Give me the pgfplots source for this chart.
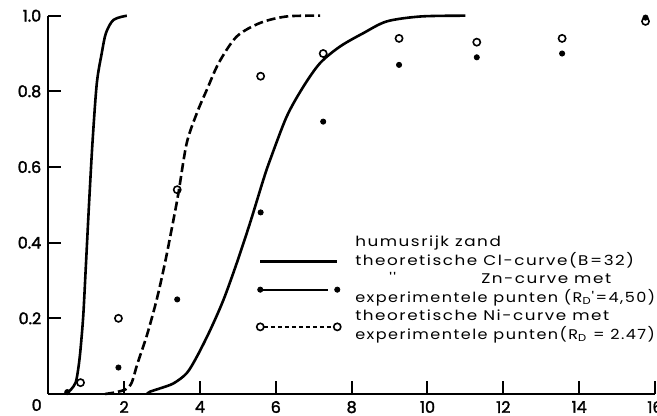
\documentclass[border=0pt]{standalone}
\usepackage{pgfplots}
\pgfplotsset{compat=1.18}
\usepackage{fontspec}
\setmainfont{Poppins}
\newfontfamily\legfont{Poppins}[FakeStretch=1.2, LetterSpace=11]
\newfontfamily\tickfont{Poppins}[FakeBold=2]

\begin{document}
\begin{tikzpicture}
\begin{axis}[
  name=ax,
  scale only axis,
  width=303.35pt, height=189.15pt,
  xmin=0, xmax=16, ymin=0, ymax=1,
  axis x line=bottom, axis y line=left,
  axis line style={-, line width=1pt},
  xtick={2,4,...,16}, ytick={0.2,0.4,0.6,0.8,1.0},
  tick align=inside,
  major tick length=6.5pt,
  tick style={line width=1pt, black},
  /pgf/number format/assume math mode=true,
  xticklabel style={font=\tickfont\fontsize{8}{9}\selectfont},
  yticklabel style={font=\tickfont\fontsize{8}{9}\selectfont,
    /pgf/number format/fixed, /pgf/number format/precision=1,
    /pgf/number format/fixed zerofill},
  clip=false,
  legend cell align=left,
  legend style={
    at={(axis cs:5.59,0.418)}, anchor=north west,
    draw=none, fill=none, inner sep=0pt, outer sep=0pt,
    row sep=2pt, column sep=0pt,
    font=\legfont\fontsize{7}{8}\selectfont,
    nodes={inner sep=0pt, text height=5.3pt, text depth=2pt},
  },
]
% theoretical Cl curve
\addplot[line width=1.3pt, smooth, forget plot] coordinates {
  (0.45,0.0) (0.6,0.012) (0.72,0.03) (0.78,0.06) (0.84,0.108) (0.92,0.204)
  (0.99,0.337) (1.08,0.513) (1.17,0.672) (1.28,0.822) (1.41,0.901)
  (1.52,0.954) (1.72,0.989) (2.07,1.0)};
% theoretical Zn curve
\addplot[line width=1.3pt, smooth, forget plot] coordinates {
  (2.6,0) (2.68,0.006) (2.95,0.015) (3.3,0.028) (3.65,0.055) (3.92,0.099)
  (4.27,0.169) (4.62,0.249) (4.97,0.346) (5.32,0.452) (5.67,0.566)
  (5.85,0.619) (6.29,0.734) (6.73,0.813) (7.17,0.875) (7.70,0.919)
  (8.31,0.954) (8.93,0.985) (9.83,0.998) (11.0,1.0)};
% theoretical Ni curve
\addplot[line width=1.3pt, dash pattern=on 4.5pt off 2pt, smooth, forget plot] coordinates {
  (1.5,0) (1.8,0.005) (2.05,0.013) (2.2,0.03) (2.35,0.08) (2.6,0.155)
  (2.86,0.25) (3.08,0.348) (3.3,0.46) (3.43,0.53) (3.65,0.663) (3.92,0.743)
  (4.18,0.804) (4.5,0.876) (4.97,0.945) (5.59,0.981) (6.29,0.998) (7.17,1.0)};
% experimental Zn points
\addplot[only marks, mark=*, mark size=1.3pt, forget plot] coordinates {
  (0.5,0.005) (1.85,0.07) (3.4,0.25) (5.6,0.48) (7.25,0.72) (9.25,0.87)
  (11.3,0.89) (13.55,0.90) (15.75,0.995)};
% experimental Ni points
\addplot[only marks, mark=o, mark size=1.8pt, mark options={line width=0.8pt}, forget plot] coordinates {
  (0.85,0.03) (1.85,0.20) (3.4,0.54) (5.6,0.84) (7.25,0.90) (9.25,0.94)
  (11.3,0.93) (13.55,0.94) (15.75,0.985)};

\addlegendimage{empty legend}
\addlegendentry{humusrijk zand}
\addlegendimage{legend image code/.code={
  \path[draw=none, use as bounding box] (0,0) rectangle (47.5pt,0pt);
  \draw[line width=1.3pt] (0,0) -- (38.5pt,0);}}
\addlegendentry{theoretische Cl-curve(B=32)}
\addlegendimage{legend image code/.code={
  \path[draw=none, use as bounding box] (0,0) rectangle (47.5pt,0pt);
  \draw[overlay, line width=1pt] (0,-4.65pt) -- (34pt,-4.65pt);
  \fill[overlay] (0,-4.65pt) circle (1.3pt) (38.5pt,-4.65pt) circle (1.3pt);}}
\addlegendentry{\makebox[63pt][l]{\hspace{17pt}''}Zn-curve met}
\addlegendimage{empty legend}
\addlegendentry{\scalebox{0.955}[1]{experimentele punten (R\textsubscript{D}'=4,50)}}
\addlegendimage{legend image code/.code={
  \path[draw=none, use as bounding box] (0,0) rectangle (47.5pt,0pt);
  \draw[overlay, line width=0.8pt, dash pattern=on 2pt off 1.5pt] (1.8pt,-4.65pt) -- (36.7pt,-4.65pt);
  \draw[overlay, line width=0.8pt] (0,-4.65pt) circle (1.8pt) (38.5pt,-4.65pt) circle (1.8pt);}}
\addlegendentry{theoretische Ni-curve met}
\addlegendimage{empty legend}
\addlegendentry{\scalebox{0.955}[1]{experimentele punten(R\textsubscript{D} = 2.47)}}

\node[font=\tickfont\fontsize{8}{9}\selectfont] at (axis cs:0,0) [xshift=-5.8pt, yshift=-5.5pt] {0};
\end{axis}
\pgfresetboundingbox
\useasboundingbox ([xshift=-24.15pt,yshift=-11pt]ax.south west)
  rectangle ([xshift=1pt,yshift=7.85pt]ax.north east);
\end{tikzpicture}
\end{document}
